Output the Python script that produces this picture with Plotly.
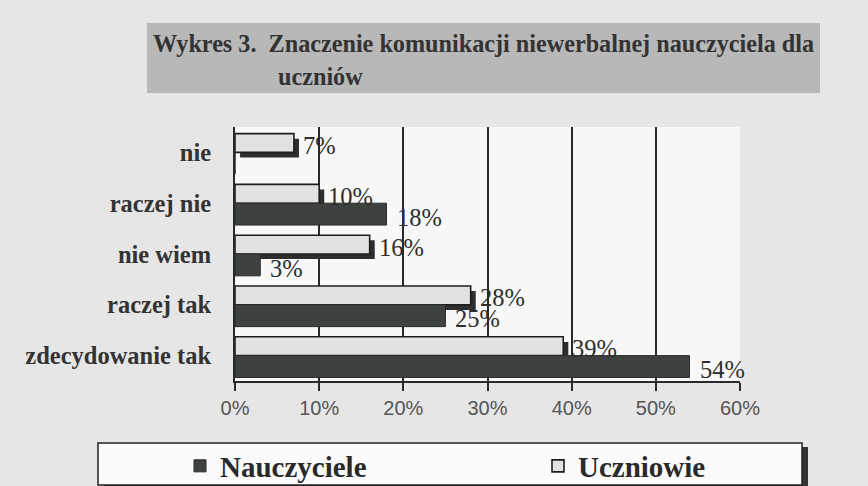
import plotly.graph_objects as go

categories = ["nie", "raczej nie", "nie wiem", "raczej tak", "zdecydowanie tak"]
uczniowie = [7, 10, 16, 28, 39]
nauczyciele = [0, 18, 3, 25, 54]
x_ticks = [0, 10, 20, 30, 40, 50, 60]
x_tick_labels = ["0%", "10%", "20%", "30%", "40%", "50%", "60%"]
title_line1 = "Wykres 3.  Znaczenie komunikacji niewerbalnej nauczyciela dla"
title_line2 = "uczniów"

W, H = 868, 486
L, R, T, B = 235, 128, 127, 105
pw, ph = W - L - R, H - T - B

def px(xp):
    return (xp - L) / pw

def py(yp):
    return (H - B - yp) / ph

SERIF = "Liberation Serif"
SANS = "Liberation Sans"
LIGHT_W, DARK_W = 0.37, 0.43
PAGE_BG = "#e6e6e6"

fig = go.Figure()
# drop shadow of the light bars (Excel style)
fig.add_trace(go.Bar(
    y=categories, x=uczniowie, base=0.6, orientation="h", name="cień",
    offset=-LIGHT_W + 0.1, width=LIGHT_W,
    marker=dict(color="#2e2e2e", line=dict(width=0)),
    showlegend=False, hoverinfo="skip",
))
fig.add_trace(go.Bar(
    y=categories, x=uczniowie, orientation="h", name="Uczniowie",
    offset=-LIGHT_W, width=LIGHT_W,
    marker=dict(color="#e2e2e2", line=dict(color="#1e1e1e", width=1.6)),
    legend="legend2", hoverinfo="skip",
))
fig.add_trace(go.Bar(
    y=categories, x=nauczyciele, orientation="h", name="Nauczyciele",
    offset=0, width=DARK_W,
    marker=dict(color="#3e423f", line=dict(color="#2a2a2a", width=1)),
    legend="legend", hoverinfo="skip",
))

annotations = []
for c, v in zip(categories, uczniowie):
    annotations.append(dict(x=v, y=c, xref="x", yref="y", text=f"{v}%",
                            showarrow=False, xanchor="left", yanchor="middle",
                            xshift=7, yshift=7,
                            font=dict(family=SERIF, size=24.5, color="#2e2e2e")))
for c, v in zip(categories, nauczyciele):
    if v == 0:
        continue
    annotations.append(dict(x=v, y=c, xref="x", yref="y", text=f"{v}%",
                            showarrow=False, xanchor="left", yanchor="middle",
                            xshift=8, yshift=-14,
                            font=dict(family=SERIF, size=24.5, color="#2e2e2e")))
annotations.append(dict(x=px(151), y=py(44), xref="paper", yref="paper",
                        text="<b>" + title_line1 + "</b>", showarrow=False,
                        xanchor="left", yanchor="middle",
                        font=dict(family=SERIF, size=24.2, color="#333333")))
annotations.append(dict(x=px(276), y=py(77), xref="paper", yref="paper",
                        text="<b>" + title_line2 + "</b>", showarrow=False,
                        xanchor="left", yanchor="middle",
                        font=dict(family=SERIF, size=24.2, color="#333333")))

shapes = [
    # title box
    dict(type="rect", xref="paper", yref="paper", x0=px(147), x1=px(820),
         y0=py(93), y1=py(23), fillcolor="#b8b8b8", line=dict(width=0), layer="below"),
    # legend box shadow
    dict(type="rect", xref="paper", yref="paper", x0=px(104), x1=px(808),
         y0=py(490), y1=py(447), fillcolor="#333333", line=dict(width=0), layer="below"),
    # legend box
    dict(type="rect", xref="paper", yref="paper", x0=px(98), x1=px(802),
         y0=py(485), y1=py(443), fillcolor="#fbfbfb",
         line=dict(color="#222222", width=1.5), layer="below"),
]

legend_font = dict(family=SERIF, size=29, color="#2a2a2a", weight="bold")
fig.update_layout(
    width=W, height=H,
    margin=dict(l=L, r=R, t=T, b=B, pad=0, autoexpand=False),
    paper_bgcolor=PAGE_BG, plot_bgcolor="#f8f8f8",
    barmode="overlay",
    showlegend=True,
    legend=dict(orientation="h", x=px(180), y=py(466), xanchor="left", yanchor="middle",
                bgcolor="rgba(0,0,0,0)", borderwidth=0, font=legend_font),
    legend2=dict(orientation="h", x=px(538), y=py(466), xanchor="left", yanchor="middle",
                 bgcolor="rgba(0,0,0,0)", borderwidth=0, font=legend_font),
    annotations=annotations, shapes=shapes,
    font=dict(family=SANS),
)
fig.update_xaxes(range=[0, 60], tickvals=x_ticks, ticktext=x_tick_labels,
                 showgrid=True, gridcolor="#2a2a2a", gridwidth=2,
                 showline=True, linecolor="#2a2a2a", linewidth=2,
                 ticks="outside", ticklen=8, tickwidth=2, tickcolor="#2a2a2a",
                 tickfont=dict(family=SANS, size=20, color="#555555"),
                 zeroline=False, fixedrange=True, automargin=False)
fig.update_yaxes(categoryorder="array", categoryarray=categories, autorange="reversed",
                 showline=True, linecolor="#2a2a2a", linewidth=2,
                 showgrid=False, zeroline=False, ticks="", ticklabelstandoff=17,
                 tickfont=dict(family=SERIF, size=24.5, color="#333333", weight="bold"),
                 fixedrange=True, automargin=False)

fig.write_html(
    "out.html",
    config={"displayModeBar": False},
    post_script=(
        "document.body.style.margin='0';"
        "document.body.style.overflow='hidden';"
        f"document.body.style.background='{PAGE_BG}';"
    ),
)
